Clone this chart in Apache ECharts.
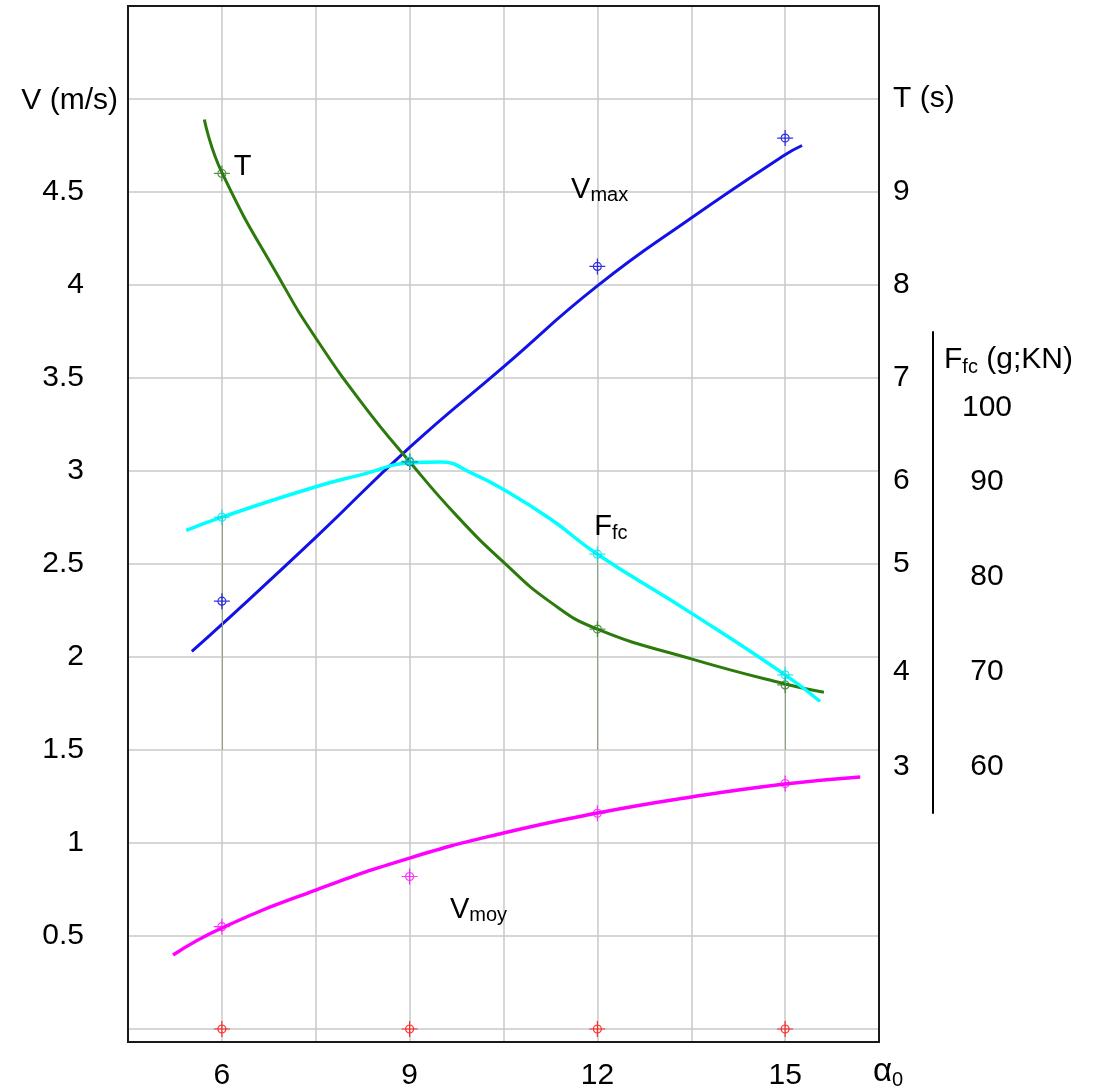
<!DOCTYPE html>
<html>
<head>
<meta charset="utf-8">
<script src="https://cdn.jsdelivr.net/npm/echarts@6/dist/echarts.min.js"></script>
<style>
html,body{margin:0;padding:0;background:#fff;}
#c{width:1095px;height:1091px;}
</style>
</head>
<body>
<div id="c"></div>
<script>
// ---- data ----
const alphaTicks = [6, 9, 12, 15];            // measurement angles α0
const vmaxPts = [2.30, 3.05, 4.10, 4.79];     // V max points (m/s)
const tPts = [9.2, 6.1, 4.3, 3.7];            // T points (s)
const ffcPts = [86.3, 92.2, 82.4, 69.7];      // Ffc points (g;KN)
const vmoyPts = [0.55, 0.82, 1.16, 1.32];     // V moy points (m/s)
const zeroPts = [0, 0, 0, 0];                 // red reference points

const vLabels = [0.5, 1, 1.5, 2, 2.5, 3, 3.5, 4, 4.5];
const tLabels = [3, 4, 5, 6, 7, 8, 9];
const fLabels = [60, 70, 80, 90, 100];

const vmaxCurveX = [5.52, 6, 7.5, 9, 10.5, 12, 13.5, 15, 15.27];
const vmaxCurveY = [2.03, 2.175, 2.643, 3.127, 3.56, 3.995, 4.36, 4.70, 4.75];

const tCurveX = [5.72, 6, 6.98, 7.5, 8.25, 9, 9.75, 10.5, 11.25, 12, 13.5, 15, 15.62];
const tCurveY = [9.78, 9.21, 8.0, 7.43, 6.72, 6.1, 5.52, 5.02, 4.59, 4.3, 3.98, 3.71, 3.62];

const vmoyCurveX = [5.22, 6, 7.5, 9, 10.5, 12, 13.5, 15, 16.2];
const vmoyCurveY = [0.398, 0.543, 0.747, 0.919, 1.054, 1.161, 1.247, 1.317, 1.355];

const ffcCurveX = [5.43, 6, 7.5, 8.25, 9, 9.5, 10, 10.5, 11.25, 12, 13.5, 15, 15.56];
const ffcCurveY = [84.9, 86.3, 89.5, 90.8, 92.0, 92.1, 90.9, 89.2, 86.1, 82.4, 76.2, 69.7, 66.9];

const dropAlphas = [6, 12, 15];   // thin drop lines from Ffc points
const dropBaseF = 61.8;

// ---- helpers ----
const FONT = "'Liberation Sans', Arial, sans-serif";
const SYM = 'path://M-8,0L8,0M0,-8L0,8M4,0A4,4,0,1,1,-4,0A4,4,0,1,1,4,0';
const pairs = (xs, ys) => xs.map((x, i) => [x, ys[i]]);
const pts = arr => alphaTicks.map((a, i) => [a, arr[i]]);
const near = (v, list) => list.some(t => Math.abs(t - v) < 1e-6);

function curveSeries(name, data, xi, yi, color, width) {
  return {
    name, type: 'line', xAxisIndex: xi, yAxisIndex: yi, data,
    smooth: 0.5, showSymbol: false, symbol: 'none',
    lineStyle: { color, width }, z: 3, silent: true, clip: false
  };
}
function pointSeries(name, data, xi, yi, color, extra) {
  return Object.assign({
    name, type: 'scatter', xAxisIndex: xi, yAxisIndex: yi, data,
    symbol: SYM, symbolSize: 16, symbolKeepAspect: true,
    itemStyle: { color: 'none', borderColor: color, borderWidth: 1.2 },
    z: 6, silent: true, clip: false
  }, extra || {});
}
const subRich = (lh) => ({ fontSize: 20, fontFamily: FONT, color: '#000', lineHeight: lh, verticalAlign: 'bottom' });
const txt = (extra) => Object.assign({ fontSize: 30, fontFamily: FONT, color: '#000' }, extra || {});
const gridLine = { color: '#c8c8c8', width: 1.5 };

const chart = echarts.init(document.getElementById('c'), null, { renderer: 'canvas' });

const option = {
  backgroundColor: '#fff',
  animation: false,
  grid: [
    // 0: data grid (V 0..5.5)
    { left: 128, right: 216, top: 6, bottom: 62, show: false },
    // 1: Ffc grid with its own short axis
    { left: 128, right: 216, top: 332, bottom: 278, show: false },
    // 2: frame grid (border, vertical grid lines, alpha labels)
    { left: 128, right: 216, top: 6, bottom: 49, show: true, borderColor: '#1a1a1a', borderWidth: 2, backgroundColor: 'transparent', z: 1 }
  ],
  xAxis: [
    { type: 'value', gridIndex: 0, min: 4.5, max: 16.5, show: false },
    { type: 'value', gridIndex: 1, min: 4.5, max: 16.5, show: false },
    {
      type: 'value', gridIndex: 2, min: 4.5, max: 16.5, interval: 1.5,
      axisLine: { show: false }, axisTick: { show: false },
      splitLine: { show: true, showMinLine: false, showMaxLine: false, lineStyle: gridLine },
      axisLabel: {
        margin: 19, fontSize: 30, fontFamily: FONT, color: '#000',
        formatter: v => (near(v, alphaTicks) ? String(v) : '')
      },
      name: '{a|α}{s|0}', nameLocation: 'end', nameGap: -6,
      nameTextStyle: {
        align: 'left', verticalAlign: 'middle', padding: [60, 0, 0, 0],
        rich: { a: txt({ fontSize: 33, lineHeight: 36 }), s: subRich(22) }
      }
    }
  ],
  yAxis: [
    {
      type: 'value', gridIndex: 0, position: 'left', min: 0, max: 5.5, interval: 0.5,
      axisLine: { show: false }, axisTick: { show: false },
      splitLine: { show: true, showMaxLine: false, lineStyle: gridLine },
      axisLabel: {
        margin: 44, fontSize: 30, fontFamily: FONT, color: '#000',
        formatter: v => (near(v, vLabels) ? String(v) : '')
      },
      name: 'V (m/s)', nameLocation: 'end', nameGap: -95,
      nameTextStyle: txt({ align: 'right', verticalAlign: 'middle', padding: [0, 10, 0, 0] })
    },
    {
      type: 'value', gridIndex: 0, position: 'right', min: 0, max: 11, interval: 1,
      axisLine: { show: false }, axisTick: { show: false }, splitLine: { show: false },
      axisLabel: {
        margin: 14, fontSize: 30, fontFamily: FONT, color: '#000', align: 'left',
        formatter: v => {
          if (Math.abs(v - 10) < 1e-6) return '{n|T (s)}';
          if (!near(v, tLabels)) return '';
          const r = Math.round(v);
          if (r === 6) return '{d10|6}';
          if (r === 4) return '{d15|4}';
          if (r === 3) return '{d17|3}';
          return '{n|' + r + '}';
        },
        rich: {
          n: txt(),
          d10: txt({ padding: [20, 0, 0, 0] }),
          d15: txt({ padding: [30, 0, 0, 0] }),
          d17: txt({ padding: [34, 0, 0, 0] })
        }
      }
    },
    {
      type: 'value', gridIndex: 1, position: 'right', offset: 54,
      min: 55.16, max: 105.79,
      axisLine: { show: true, lineStyle: { color: '#000', width: 2 } },
      axisTick: { show: false }, splitLine: { show: false },
      axisLabel: {
        customValues: fLabels,
        margin: 54, align: 'center', fontSize: 30, fontFamily: FONT, color: '#000',
        formatter: v => {
          const r = Math.round(v);
          if (r === 100) return '{d|100}';
          return '{n|' + r + '}';
        },
        rich: {
          n: txt(),
          d: txt({ padding: [42, 0, 0, 0] })
        }
      },
      name: '{a|F}{s|fc}{a| (g;KN)}', nameLocation: 'end', nameGap: -28,
      nameTextStyle: {
        align: 'left', verticalAlign: 'middle', padding: [0, 0, 0, 11],
        rich: { a: txt({ lineHeight: 34 }), s: subRich(22) }
      }
    },
    { type: 'value', gridIndex: 2, min: 0, max: 1, show: false }
  ],
  series: [
    curveSeries('Vmax', pairs(vmaxCurveX, vmaxCurveY), 0, 0, '#1212e6', 3),
    curveSeries('T', pairs(tCurveX, tCurveY), 0, 1, '#2b7a0b', 3),
    curveSeries('Vmoy', pairs(vmoyCurveX, vmoyCurveY), 0, 0, '#ff00ff', 3.5),
    curveSeries('Ffc', pairs(ffcCurveX, ffcCurveY), 1, 2, '#00ffff', 3.5),
    pointSeries('Vmax pts', pts(vmaxPts), 0, 0, '#0000dd'),
    pointSeries('T pts', pts(tPts), 0, 1, '#2f7a20'),
    pointSeries('Ffc pts', pts(ffcPts), 1, 2, '#00e0e8', {
      markLine: {
        silent: true, symbol: 'none', label: { show: false },
        lineStyle: { color: '#8fa284', width: 1, type: 'solid' },
        data: dropAlphas.map(a => [
          { coord: [a, ffcPts[alphaTicks.indexOf(a)]] },
          { coord: [a, dropBaseF] }
        ])
      }
    }),
    pointSeries('Vmoy pts', pts(vmoyPts), 0, 0, '#ff00ff'),
    pointSeries('zero pts', pts(zeroPts), 0, 0, '#ff0000', {
      markPoint: {
        silent: true, symbol: 'circle', symbolSize: 0,
        label: {
          show: true, position: 'right', distance: 0, color: '#000',
          rich: {
            a: txt({ fontSize: 29, lineHeight: 32 }),
            s: subRich(16),
            f: subRich(18),
            m: subRich(24)
          }
        },
        data: [
          { coord: [6.19, 4.637], label: { formatter: '{a|T}' } },
          { coord: [11.58, 4.511], label: { formatter: '{a|V}{s|max}' } },
          { coord: [11.95, 2.699], label: { formatter: '{a|F}{f|fc}' } },
          { coord: [9.645, 0.640], label: { formatter: '{a|V}{m|moy}' } }
        ]
      }
    })
  ]
};
chart.setOption(option);
</script>
</body>
</html>
